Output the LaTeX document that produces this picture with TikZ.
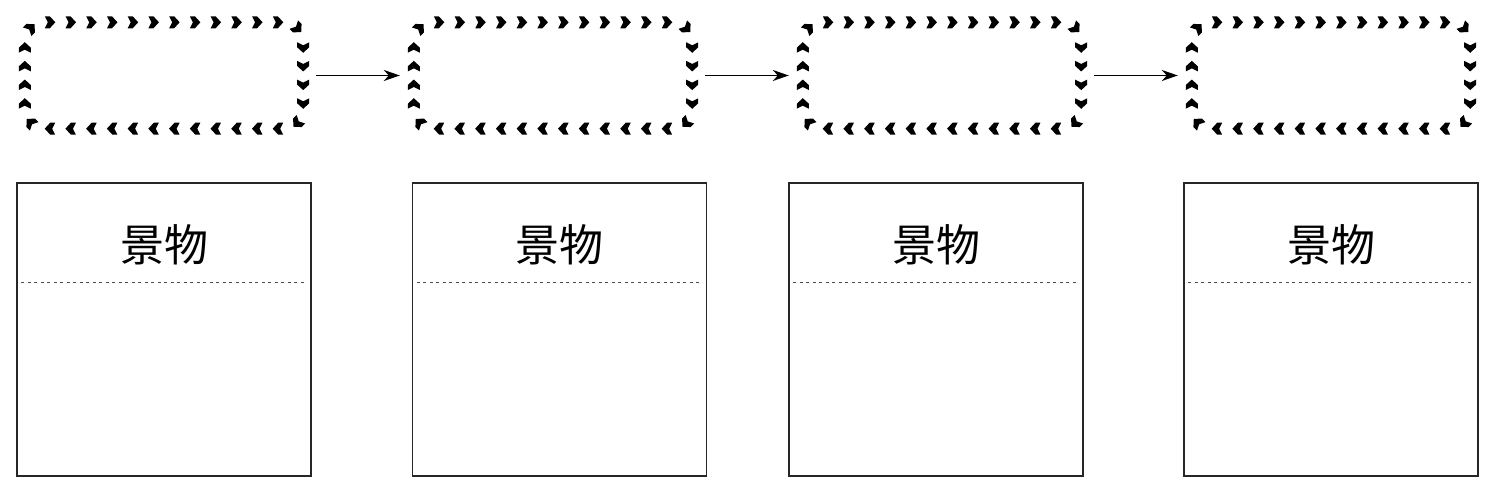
\documentclass[tikz,border=0pt]{standalone}
\usepackage{fontspec}
\newfontfamily\cjk{Noto Sans CJK SC}
\usetikzlibrary{arrows.meta}
\tikzset{
  slot/.style={draw=none,minimum width=278pt,minimum height=106pt,inner sep=0pt},
  chevmark/.pic={\fill[black] (-5pt,6pt) -- (0pt,6pt) -- (5.5pt,0pt) -- (0pt,-6pt) -- (-5pt,-6pt) -- (-2pt,0pt) -- cycle;},
  card/.style={draw=black!85,line width=1.1pt,minimum width=294pt,minimum height=293pt,inner sep=0pt},
  lbl/.style={font=\cjk\fontsize{44}{50}\selectfont,inner sep=0pt},
  sep/.style={draw=black!70,line width=0.8pt,dash pattern=on 3pt off 3.5pt},
  flow/.style={-{Stealth[length=16pt,width=11pt,inset=5pt]},line width=1.6pt,shorten <=13pt,shorten >=14pt}
}
\begin{document}
\begin{tikzpicture}[x=1pt,y=1pt]
\useasboundingbox (0,0) rectangle (1510,489);
\foreach \i/\cx in {1/164,2/553,3/942,4/1331}{
  \node[slot] (s\i) at (\cx,413.5) {};
  \foreach \k in {0,...,11}{
    \pic[rotate=0] at ([xshift={25+\k*20.727}]s\i.north west) {chevmark};
    \pic[rotate=180] at ([xshift={-25-\k*20.727}]s\i.south east) {chevmark};
  }
  \foreach \k in {0,...,3}{
    \pic[rotate=-90] at ([yshift={-25-\k*18.667}]s\i.north east) {chevmark};
    \pic[rotate=90] at ([yshift={25+\k*18.667}]s\i.south west) {chevmark};
  }
  \pic[rotate=-45] at ([shift={(-5.858,-5.858)}]s\i.north east) {chevmark};
  \pic[rotate=-135] at ([shift={(-5.858,5.858)}]s\i.south east) {chevmark};
  \pic[rotate=135] at ([shift={(5.858,5.858)}]s\i.south west) {chevmark};
  \pic[rotate=45] at ([shift={(5.858,-5.858)}]s\i.north west) {chevmark};
}
\foreach \a/\b in {1/2,2/3,3/4}{
  \draw[flow] (s\a.east) -- (s\b.west);
}
\foreach \i/\cx in {1/164,2/559.5,3/936,4/1331}{
  \node[card] (c\i) at (\cx,159.5) {};
  \node[lbl] (l\i) at (\cx,244) {景物};
  \coordinate (dl\i) at ([xshift=5pt,yshift=-100pt]c\i.north west);
  \coordinate (dr\i) at ([xshift=-5pt,yshift=-100pt]c\i.north east);
  \draw[sep] (dl\i) -- (dr\i);
}
\end{tikzpicture}
\end{document}
